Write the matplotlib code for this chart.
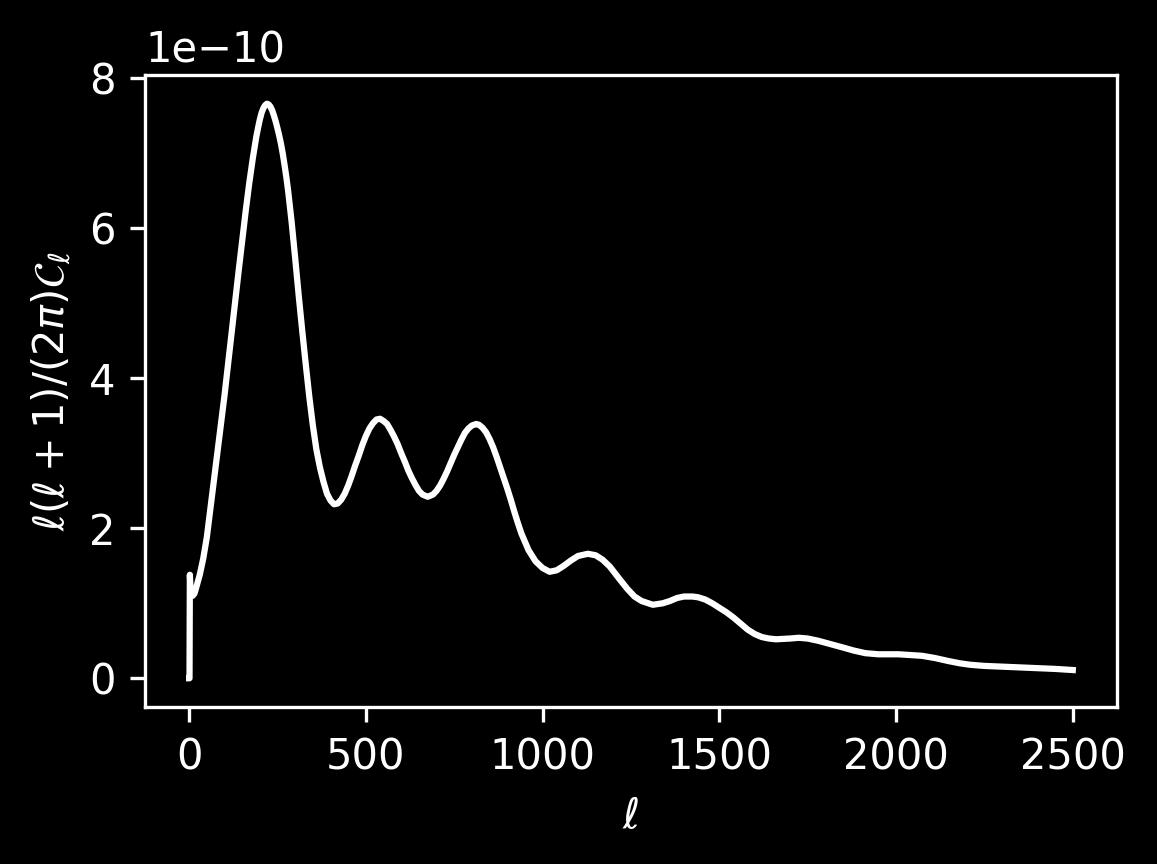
import matplotlib
matplotlib.use("Agg")
import matplotlib.pyplot as plt
import numpy as np

# multipole ell and the spectrum l(l+1)C_l/(2pi) (units of 1e-10)
ell = [0, 1, 2, 3, 4, 5, 7, 10, 15, 20, 30, 40, 50, 60, 70, 80, 90, 100,
       110, 120, 130, 140, 150, 160, 170, 180, 190, 195, 200, 205, 210, 215,
       220, 225, 230, 235, 240, 245, 250, 255, 260, 265, 270, 275, 280, 290,
       300, 310, 320, 330, 340, 350, 360, 370, 380, 390, 400, 410, 420, 430,
       440, 450, 460, 470, 480, 490, 500, 510, 520, 530, 540, 550, 560, 570,
       580, 590, 600, 610, 620, 630, 640, 650, 660, 675, 690, 700, 710, 720,
       730, 740, 750, 760, 770, 780, 790, 800, 812, 820, 830, 840, 850, 860,
       870, 880, 890, 900, 910, 920, 930, 940, 960, 980, 1000, 1020, 1040,
       1060, 1080, 1100, 1128, 1150, 1170, 1190, 1218, 1240, 1260, 1280, 1312,
       1340, 1360, 1380, 1400, 1424, 1440, 1460, 1480, 1500, 1520, 1540, 1560,
       1580, 1600, 1620, 1640, 1660, 1680, 1700, 1725, 1750, 1780, 1819, 1850,
       1880, 1913, 1950, 2007, 2040, 2073, 2110, 2148, 2180, 2210, 2250, 2300,
       2350, 2400, 2450, 2500]
dl = [0.0, 0.0, 1.38, 1.27, 1.20, 1.16, 1.12, 1.10, 1.13, 1.21, 1.38, 1.60,
      1.88, 2.26, 2.64, 3.01, 3.39, 3.77, 4.18, 4.60, 5.02, 5.43, 5.83, 6.23,
      6.60, 6.93, 7.22, 7.34, 7.45, 7.54, 7.60, 7.64, 7.66, 7.65, 7.62, 7.57,
      7.50, 7.42, 7.33, 7.23, 7.12, 6.99, 6.84, 6.68, 6.50, 6.08, 5.60, 5.10,
      4.63, 4.18, 3.75, 3.37, 3.05, 2.81, 2.62, 2.46, 2.37, 2.32, 2.33, 2.38,
      2.46, 2.57, 2.70, 2.84, 2.97, 3.11, 3.23, 3.33, 3.40, 3.45, 3.46, 3.43,
      3.39, 3.31, 3.22, 3.12, 3.00, 2.89, 2.77, 2.67, 2.58, 2.50, 2.45, 2.42,
      2.45, 2.50, 2.57, 2.66, 2.76, 2.87, 2.98, 3.08, 3.18, 3.27, 3.33, 3.37,
      3.39, 3.38, 3.34, 3.28, 3.19, 3.08, 2.95, 2.81, 2.67, 2.53, 2.38, 2.22,
      2.07, 1.93, 1.71, 1.56, 1.47, 1.42, 1.44, 1.50, 1.57, 1.63, 1.66, 1.64,
      1.58, 1.49, 1.32, 1.19, 1.09, 1.03, 0.98, 1.00, 1.03, 1.07, 1.09, 1.09,
      1.08, 1.05, 1.00, 0.94, 0.88, 0.81, 0.73, 0.65, 0.59, 0.55, 0.53, 0.52,
      0.525, 0.53, 0.54, 0.53, 0.50, 0.45, 0.41, 0.37, 0.335, 0.32, 0.32, 0.31,
      0.30, 0.27, 0.23, 0.20, 0.18, 0.165, 0.155, 0.145, 0.135, 0.125, 0.11]

plt.style.use("dark_background")

fig = plt.figure(figsize=(1157 / 300, 864 / 300), dpi=300)
ax = fig.add_axes([0.1253, 0.1817, 0.8401, 0.7315])

ax.plot(ell, np.array(dl) * 1e-10, color="white", lw=1.5)
ax.set_xlabel(r"$\ell$")
ax.set_ylabel(r"$\ell(\ell+1)/(2\pi)\mathcal{C}_\ell$")

fig.savefig("out.png", dpi=300)
